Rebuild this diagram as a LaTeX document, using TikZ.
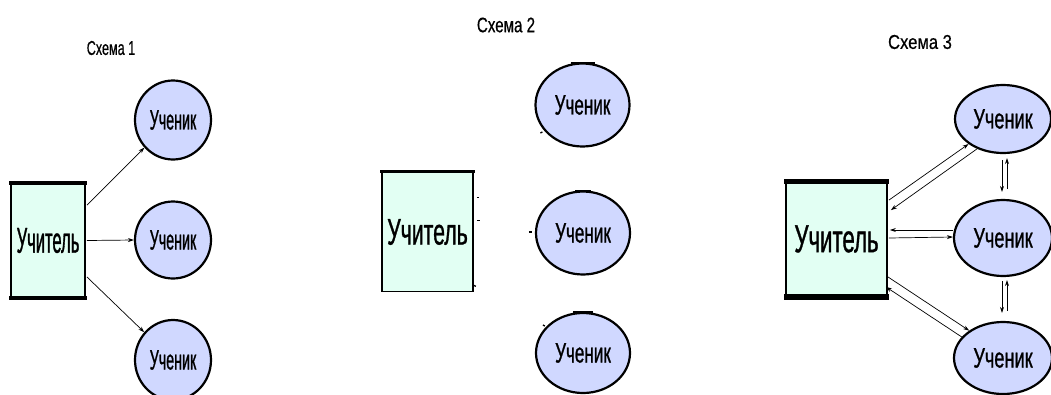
\documentclass[tikz,border=0pt]{standalone}
\usepackage{fontspec}
\setmainfont{Liberation Sans}
\newfontfamily\tA[FakeStretch=0.46,FakeBold=0.8]{Liberation Sans}
\newfontfamily\pA[FakeStretch=0.51,FakeBold=0.8]{Liberation Sans}
\newfontfamily\hA[FakeStretch=0.63,FakeBold=0.5]{Liberation Sans}
\newfontfamily\tB[FakeStretch=0.575,FakeBold=0.8]{Liberation Sans}
\newfontfamily\pB[FakeStretch=0.61,FakeBold=0.8]{Liberation Sans}
\newfontfamily\hB[FakeStretch=0.72,FakeBold=0.5]{Liberation Sans}
\newfontfamily\tC[FakeStretch=0.57,FakeBold=0.8]{Liberation Sans}
\newfontfamily\pC[FakeStretch=0.65,FakeBold=0.8]{Liberation Sans}
\newfontfamily\hC[FakeStretch=0.83,FakeBold=0.5]{Liberation Sans}
\newcommand\fs[1]{\fontsize{#1}{#1}\selectfont}
\usetikzlibrary{arrows.meta,calc,shapes.geometric}
\definecolor{boxfill}{RGB}{226,255,243}
\definecolor{ellfill}{RGB}{208,216,255}
\tikzset{
  teacher/.style={draw=black, line width=1.8pt, fill=boxfill, inner sep=0pt},
  pupil/.style={ellipse, draw=black, line width=2.2pt, fill=ellfill, inner sep=0pt},
  arr/.style={-{Stealth[length=6pt,width=4pt]}, line width=0.7pt},
  tick/.style={line width=1.3pt},
  title/.style={inner sep=0pt}
}
\begin{document}
\begin{tikzpicture}[x=1pt,y=-1pt]
\useasboundingbox (0,0) rectangle (1051,394);
\clip (0,0) rectangle (1051,394);
\fill[white] (0,0) rectangle (1051,394);

% ---------- Scheme 1 ----------
\node[title] (h1) at (111,48) {\hA\fs{20}Схема 1};
\node[teacher, minimum width=74pt, minimum height=113pt] (b1) at (48,240.5)
  {\tA\fs{36}Учитель};
\draw[line width=4.5pt] ([xshift=-0.9pt]b1.north west) -- ([xshift=0.9pt]b1.north east);
\draw[line width=4.5pt] ([xshift=-0.9pt]b1.south west) -- ([xshift=0.9pt]b1.south east);
\node[pupil, minimum width=76pt, minimum height=79pt] (s1a) at (173,120) {\pA\fs{28}Ученик};
\node[pupil, minimum width=76pt, minimum height=77pt] (s1b) at (173,240) {\pA\fs{28}Ученик};
\node[pupil, minimum width=76pt, minimum height=80pt] (s1c) at (173,360) {\pA\fs{28}Ученик};
\draw[arr] ($(b1.north east)+(1,22)$) -- (s1a.224);
\draw[arr] ($(b1.east)+(1,0)$) -- (s1b.west);
\draw[arr] ($(b1.south east)+(1,-21)$) -- (s1c.136);

% ---------- Scheme 2 ----------
\node[title] (h2) at (506,25) {\hB\fs{21}Схема 2};
\node[teacher, minimum width=91pt, minimum height=119pt] (b2) at (427.5,232)
  {\tB\fs{37}Учитель};
\draw[line width=3pt] ([xshift=-0.9pt]b2.north west) -- ([xshift=0.9pt]b2.north east);
\node[pupil, minimum width=94pt, minimum height=83pt] (s2a) at (582.5,105) {\pB\fs{28}Ученик};
\node[pupil, minimum width=94pt, minimum height=83pt] (s2b) at (583,233) {\pB\fs{28}Ученик};
\node[pupil, minimum width=94pt, minimum height=80pt] (s2c) at (583,353) {\pB\fs{28}Ученик};
\draw[line width=2.5pt] ($(s2a.north)+(-12,0.5)$) -- ($(s2a.north)+(12,0.5)$);
\draw[line width=2.5pt] ($(s2b.north)+(-8,0.5)$) -- ($(s2b.north)+(8,0.5)$);
\draw[line width=2.5pt] ($(s2c.north)+(-10,0.5)$) -- ($(s2c.north)+(10,0.5)$);
% residual arrow tips
\draw[tick] ($(b2.north east)+(3,26)$) -- ++(2,0);
\draw[tick] ($(b2.north east)+(3,49)$) -- ++(3,0);
\draw[tick] ($(b2.south east)+(0,-7)$) -- ++(2,1);
\draw[tick] ($(s2a.west)+(6,28)$) -- ++(2,-1);
\draw[tick] ($(s2b.west)+(-6,-1)$) -- ++(3,0);
\draw[tick] ($(s2c.west)+(8,-28)$) -- ++(2,1);

% ---------- Scheme 3 ----------
\node[title] (h3) at (920,42) {\hC\fs{20}Схема 3};
\node[teacher, minimum width=101pt, minimum height=114pt] (b3) at (836.5,239)
  {\tC\fs{39}Учитель};
\draw[line width=5pt] ([xshift=-0.9pt]b3.north west) -- ([xshift=0.9pt]b3.north east);
\draw[line width=6pt] ([xshift=-0.9pt]b3.south west) -- ([xshift=0.9pt]b3.south east);
\node[pupil, minimum width=96pt, minimum height=68pt] (s3a) at (1003,119) {\pC\fs{28}Ученик};
\node[pupil, minimum width=98pt, minimum height=76pt] (s3b) at (1003,238) {\pC\fs{28}Ученик};
\node[pupil, minimum width=98pt, minimum height=72pt] (s3c) at (1003,358) {\pC\fs{28}Ученик};
% teacher <-> top pupil
\draw[arr] ($(b3.north east)+(1,19)$) -- (s3a.216);
\draw[arr] (s3a.229) -- ($(b3.north east)+(3,29)$);
% teacher <-> middle pupil
\draw[arr] ($(s3b.west)+(0,-8)$) -- ($(b3.east)+(2,-9)$);
\draw[arr] ($(b3.east)+(1,-1)$) -- ($(s3b.west)+(0,-1)$);
% teacher <-> bottom pupil
\draw[arr] ($(b3.south east)+(0,-20)$) -- (s3c.141);
\draw[arr] (s3c.153) -- ($(b3.south east)+(-2,-10)$);
% pupil <-> pupil
\draw[arr] ($(s3a.south)+(-1,6)$) -- ($(s3b.north)+(-1,-7)$);
\draw[arr] ($(s3b.north)+(4,-10)$) -- ($(s3a.south)+(4,4)$);
\draw[arr] ($(s3b.south)+(-1,4)$) -- ($(s3c.north)+(-1,-8)$);
\draw[arr] ($(s3c.north)+(4,-10)$) -- ($(s3b.south)+(4,3)$);
\end{tikzpicture}
\end{document}
